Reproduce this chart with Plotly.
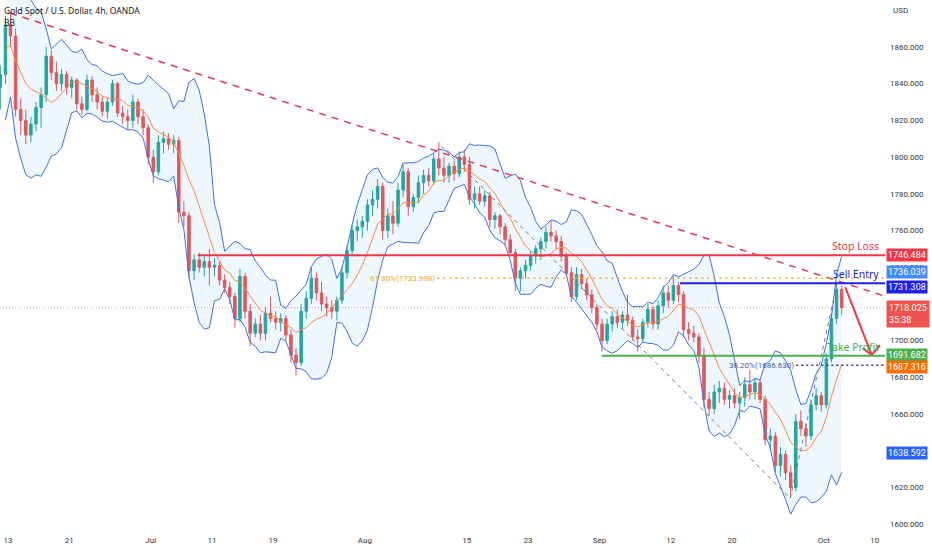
import numpy as np
import pandas as pd
import plotly.graph_objects as go

# XAUUSD, half-day candles (Jun 10 -> Oct 4, 2022)
opens = [1838, 1845, 1872, 1866, 1826, 1820, 1812, 1818, 1827, 1834,
         1855, 1846, 1840, 1845, 1838, 1842, 1829, 1826, 1842, 1834,
         1830, 1825, 1830, 1840, 1824, 1822, 1820, 1830, 1822, 1816,
         1800, 1792, 1808, 1810, 1807, 1809, 1770, 1768, 1738, 1744,
         1740, 1743, 1740, 1741, 1733, 1729, 1724, 1712, 1735, 1716,
         1704, 1709, 1704, 1715, 1712, 1710, 1712, 1703, 1692, 1688,
         1716, 1723, 1734, 1726, 1720, 1718, 1716, 1722, 1737, 1749,
         1760, 1762, 1765, 1774, 1777, 1784, 1760, 1768, 1764, 1782,
         1792, 1773, 1778, 1786, 1790, 1787, 1799, 1794, 1790, 1795,
         1791, 1800, 1796, 1777, 1780, 1776, 1779, 1766, 1768, 1762,
         1755, 1748, 1734, 1738, 1741, 1746, 1750, 1754, 1759, 1757,
         1754, 1746, 1737, 1724, 1736, 1731, 1725, 1718, 1709, 1700,
         1709, 1713, 1710, 1714, 1711, 1702, 1701, 1710, 1717, 1709,
         1719, 1726, 1722, 1730, 1725, 1706, 1704, 1702, 1692, 1668,
         1663, 1672, 1674, 1668, 1670, 1666, 1669, 1676, 1672, 1677,
         1668, 1646, 1648, 1632, 1638, 1628, 1620, 1656, 1652, 1648,
         1665, 1670, 1665, 1690, 1712, 1728]
highs = [1850, 1877, 1879, 1870, 1832, 1826, 1822, 1830, 1838, 1860,
         1858, 1852, 1848, 1847, 1844, 1843, 1833, 1845, 1844, 1838,
         1833, 1832, 1842, 1841, 1828, 1826, 1834, 1832, 1826, 1818,
         1804, 1812, 1814, 1813, 1812, 1811, 1776, 1770, 1747, 1748,
         1746, 1750, 1745, 1743, 1736, 1732, 1726, 1739, 1737, 1720,
         1712, 1714, 1718, 1724, 1716, 1715, 1714, 1706, 1696, 1720,
         1727, 1740, 1737, 1732, 1724, 1722, 1724, 1740, 1752, 1763,
         1766, 1768, 1777, 1782, 1788, 1786, 1772, 1776, 1786, 1796,
         1794, 1780, 1790, 1793, 1794, 1802, 1808, 1800, 1797, 1798,
         1803, 1804, 1800, 1784, 1784, 1782, 1781, 1770, 1769, 1764,
         1758, 1750, 1740, 1744, 1749, 1752, 1756, 1762, 1765, 1760,
         1757, 1748, 1740, 1740, 1739, 1734, 1728, 1720, 1712, 1712,
         1716, 1717, 1716, 1725, 1713, 1706, 1712, 1720, 1719, 1722,
         1730, 1730, 1735, 1732, 1727, 1710, 1708, 1704, 1696, 1672,
         1676, 1678, 1677, 1673, 1674, 1672, 1680, 1684, 1680, 1679,
         1670, 1652, 1650, 1642, 1640, 1632, 1660, 1662, 1655, 1668,
         1674, 1672, 1693, 1715, 1732, 1730]
lows = [1826, 1840, 1860, 1822, 1812, 1807, 1808, 1814, 1816, 1830,
        1842, 1836, 1836, 1834, 1832, 1826, 1823, 1825, 1830, 1826,
        1822, 1821, 1828, 1822, 1818, 1815, 1816, 1818, 1812, 1796,
        1786, 1790, 1802, 1804, 1802, 1764, 1762, 1734, 1733, 1737,
        1735, 1730, 1735, 1730, 1726, 1720, 1707, 1710, 1712, 1697,
        1702, 1700, 1700, 1710, 1706, 1705, 1700, 1688, 1681, 1686,
        1712, 1720, 1722, 1716, 1713, 1712, 1711, 1720, 1734, 1746,
        1754, 1756, 1760, 1768, 1772, 1755, 1756, 1758, 1762, 1778,
        1768, 1770, 1775, 1780, 1784, 1785, 1790, 1786, 1786, 1787,
        1789, 1792, 1774, 1772, 1774, 1773, 1762, 1761, 1758, 1752,
        1746, 1727, 1727, 1734, 1738, 1742, 1744, 1750, 1754, 1750,
        1743, 1735, 1721, 1722, 1728, 1722, 1715, 1706, 1694, 1698,
        1705, 1707, 1706, 1708, 1700, 1694, 1699, 1707, 1706, 1706,
        1715, 1718, 1720, 1721, 1702, 1700, 1699, 1688, 1664, 1659,
        1660, 1666, 1665, 1663, 1663, 1657, 1664, 1668, 1668, 1666,
        1643, 1640, 1628, 1626, 1624, 1615, 1618, 1648, 1642, 1646,
        1662, 1661, 1663, 1688, 1709, 1714]
closes = [1845, 1872, 1866, 1826, 1820, 1812, 1818, 1827, 1834, 1855,
          1846, 1840, 1845, 1838, 1842, 1829, 1826, 1842, 1834, 1830,
          1825, 1830, 1840, 1824, 1822, 1820, 1830, 1822, 1816, 1800,
          1792, 1808, 1810, 1807, 1809, 1770, 1768, 1738, 1744, 1740,
          1743, 1740, 1741, 1733, 1729, 1724, 1712, 1735, 1716, 1704,
          1709, 1704, 1715, 1712, 1710, 1712, 1703, 1692, 1688, 1716,
          1723, 1734, 1726, 1720, 1718, 1716, 1722, 1737, 1749, 1760,
          1762, 1765, 1774, 1777, 1784, 1760, 1768, 1764, 1782, 1792,
          1773, 1778, 1786, 1790, 1787, 1799, 1794, 1790, 1795, 1791,
          1800, 1796, 1777, 1780, 1776, 1779, 1766, 1768, 1762, 1755,
          1748, 1734, 1738, 1741, 1746, 1750, 1754, 1759, 1757, 1754,
          1746, 1737, 1724, 1736, 1731, 1725, 1718, 1709, 1700, 1709,
          1713, 1710, 1714, 1711, 1702, 1701, 1710, 1717, 1709, 1719,
          1726, 1722, 1730, 1725, 1706, 1704, 1702, 1692, 1668, 1663,
          1672, 1674, 1668, 1670, 1666, 1669, 1676, 1672, 1677, 1668,
          1646, 1648, 1632, 1638, 1628, 1620, 1656, 1652, 1648, 1665,
          1670, 1665, 1690, 1712, 1728, 1718.025]

# trading-day index (Jun 13 = 0), one candle every half day
bar_day = np.arange(len(closes)) * 0.5 - 0.75

tick_days = [0, 6, 14, 20, 26, 35, 45, 51, 58, 65, 71, 80, 85]
tick_labels = ["13", "21", "Jul", "11", "19", "Aug", "15", "23", "Sep", "12", "20", "Oct", "10"]
price_ticks = [1600, 1620, 1640, 1660, 1680, 1700, 1720, 1740, 1760, 1780, 1800, 1820, 1840, 1860]

# drawn levels
stop_loss = 1746.484
sell_entry = 1731.308
take_profit = 1691.682
fib_618 = 1733.998
fib_382 = 1686.630
last_price = 1718.025
countdown = "35:38"
bb_upper_last = 1736.039
bb_basis_last = 1687.316
bb_lower_last = 1638.592

# start day of each drawn level line
stop_loss_from = 18.6
sell_entry_from = 65.9
take_profit_from = 58.2
fib_618_from = 42.1
fib_382_from = 77.3

# trendline and fib swing points (day, price)
trend_days = [0.2, 86.0]
trend_prices = [1878.5, 1724.2]
swing_days = [42.5, 76.7, 81.3]
swing_prices = [1806.0, 1614.0, 1731.3]
arrow_days = [82.1, 84.7, None, 83.8, 84.7, 85.5]
arrow_prices = [1729.2, 1692.1, None, 1695.9, 1692.1, 1697.5]

# Bollinger Bands (20 x 4h ~ 8 half-day bars, 2 std)
c = pd.Series(closes, dtype=float)
basis = c.rolling(8, min_periods=2).mean()
dev = c.rolling(8, min_periods=2).std()
upper = basis + 2 * dev
lower = basis - 2 * dev

x_lo, x_hi = -0.78, 86.0

fig = go.Figure()

fig.add_trace(go.Scatter(x=bar_day, y=upper, mode="lines",
                         line=dict(color="#3d6ef0", width=1), hoverinfo="skip"))
fig.add_trace(go.Scatter(x=bar_day, y=lower, mode="lines", fill="tonexty",
                         fillcolor="rgba(33,150,243,0.08)",
                         line=dict(color="#3d6ef0", width=1), hoverinfo="skip"))
fig.add_trace(go.Scatter(x=bar_day, y=basis, mode="lines",
                         line=dict(color="#ff8a3d", width=1), hoverinfo="skip"))

fig.add_trace(go.Candlestick(
    x=bar_day, open=opens, high=highs, low=lows, close=closes,
    increasing=dict(line=dict(color="#26a69a", width=1), fillcolor="#26a69a"),
    decreasing=dict(line=dict(color="#ef5350", width=1), fillcolor="#ef5350"),
    whiskerwidth=0,
))

# red dashed down trendline
fig.add_trace(go.Scatter(x=trend_days, y=trend_prices, mode="lines",
                         line=dict(color="#e8375a", width=1.5, dash="7px,6px"),
                         hoverinfo="skip"))
# fib swing lines
fig.add_trace(go.Scatter(x=swing_days, y=swing_prices, mode="lines",
                         line=dict(color="#787b86", width=1, dash="4px,4px"),
                         hoverinfo="skip"))
# sell arrow
fig.add_trace(go.Scatter(x=arrow_days, y=arrow_prices, mode="lines",
                         line=dict(color="#f23645", width=2), hoverinfo="skip"))

# level lines
fig.add_shape(type="line", x0=x_lo, x1=x_hi, y0=last_price, y1=last_price,
              line=dict(color="rgba(239,83,80,0.55)", width=1, dash="1px,2px"))
fig.add_shape(type="line", x0=fib_618_from, x1=x_hi, y0=fib_618, y1=fib_618,
              line=dict(color="#e9a825", width=1.5, dash="2px,4px"))
fig.add_shape(type="line", x0=fib_382_from, x1=x_hi, y0=fib_382, y1=fib_382,
              line=dict(color="#1a3a9c", width=1.5, dash="2px,3px"))
fig.add_shape(type="line", x0=stop_loss_from, x1=x_hi, y0=stop_loss, y1=stop_loss,
              line=dict(color="#f23645", width=2))
fig.add_shape(type="line", x0=sell_entry_from, x1=x_hi, y0=sell_entry, y1=sell_entry,
              line=dict(color="#1f1fe6", width=2))
fig.add_shape(type="line", x0=take_profit_from, x1=x_hi, y0=take_profit, y1=take_profit,
              line=dict(color="#4caf50", width=2))

lbl_font = "Noto Sans"

# texts on the chart
fig.add_annotation(x=1, xref="paper", xanchor="right", xshift=-4, y=stop_loss,
                   yanchor="bottom", text="Stop Loss", showarrow=False,
                   font=dict(family=lbl_font, size=10.5, color="#f23645"))
fig.add_annotation(x=1, xref="paper", xanchor="right", xshift=-4, y=sell_entry,
                   yanchor="bottom", text="Sell Entry", showarrow=False,
                   font=dict(family=lbl_font, size=10.5, color="#1f1fe6"))
fig.add_annotation(x=1, xref="paper", xanchor="right", xshift=-4, y=take_profit,
                   yanchor="bottom", text="Take Profit", showarrow=False,
                   font=dict(family=lbl_font, size=10.5, color="#4caf50"))
fig.add_annotation(x=fib_618_from, xanchor="right", y=fib_618, yanchor="middle",
                   text="61.80%%(%.3f)" % fib_618, showarrow=False,
                   font=dict(family="Roboto", size=8, color="#e9a825"))
fig.add_annotation(x=fib_382_from, xanchor="right", y=fib_382, yanchor="middle",
                   text="38.20%%(%.3f)" % fib_382, showarrow=False,
                   font=dict(family="Roboto", size=8, color="#4a5a9c"))

# price tags on the axis (value, colour, nudge in px so close tags don't cover each other)
tags = [
    (stop_loss, "#f23645", 0),
    (bb_upper_last, "#448aff", 2),
    (sell_entry, "#1f1fe6", -4),
    (take_profit, "#4caf50", 1),
    (bb_basis_last, "#ff6d00", -3),
    (bb_lower_last, "#2962ff", 0),
]
for val, col, nudge in tags:
    fig.add_annotation(x=1, xref="paper", xanchor="left", xshift=1, y=val,
                       yanchor="middle", yshift=nudge, text="%.3f" % val,
                       showarrow=False, bgcolor=col, borderpad=1,
                       font=dict(family="Roboto", size=9, color="white"))
fig.add_annotation(x=1, xref="paper", xanchor="left", xshift=1, y=last_price,
                   yanchor="top", yshift=8, text="%.3f<br>%s" % (last_price, countdown),
                   showarrow=False, bgcolor="#ef5350", borderpad=2,
                   align="left", font=dict(family="Roboto", size=9, color="white"))

# title
fig.add_annotation(x=0, xref="paper", xanchor="left", xshift=2, y=1, yref="paper",
                   yanchor="top", yshift=-3, text="Gold Spot / U.S. Dollar, 4h, OANDA",
                   showarrow=False, font=dict(family=lbl_font, size=8.5, color="#131722"))
fig.add_annotation(x=0, xref="paper", xanchor="left", xshift=2, y=1, yref="paper",
                   yanchor="top", yshift=-15, text="BB",
                   showarrow=False, font=dict(family=lbl_font, size=8.5, color="#131722"))
fig.add_annotation(x=1, xref="paper", xanchor="left", xshift=6, y=1, yref="paper",
                   yanchor="top", yshift=-4, text="USD",
                   showarrow=False, font=dict(family="Roboto", size=8, color="#333333"))

fig.update_layout(
    width=932, height=550,
    margin=dict(l=0, r=47, t=0, b=20),
    paper_bgcolor="white", plot_bgcolor="white",
    showlegend=False, hovermode=False,
    xaxis=dict(range=[x_lo, x_hi], tickvals=tick_days, ticktext=tick_labels,
               showgrid=False, zeroline=False, showline=False, ticks="",
               ticklabelstandoff=4, rangeslider=dict(visible=False),
               tickfont=dict(family="Roboto", size=8, color="#333333")),
    yaxis=dict(side="right", range=[1596.8, 1885.6], tickvals=price_ticks,
               tickformat=".3f", showgrid=False, zeroline=False, showline=False,
               ticks="", ticklabelstandoff=4,
               tickfont=dict(family="Roboto", size=8, color="#333333")),
)

# drop the browser's default page margin so the chart sits at the window corner
fig.write_html("out.html", config={"displayModeBar": False},
               post_script="document.body.style.margin='0';")
